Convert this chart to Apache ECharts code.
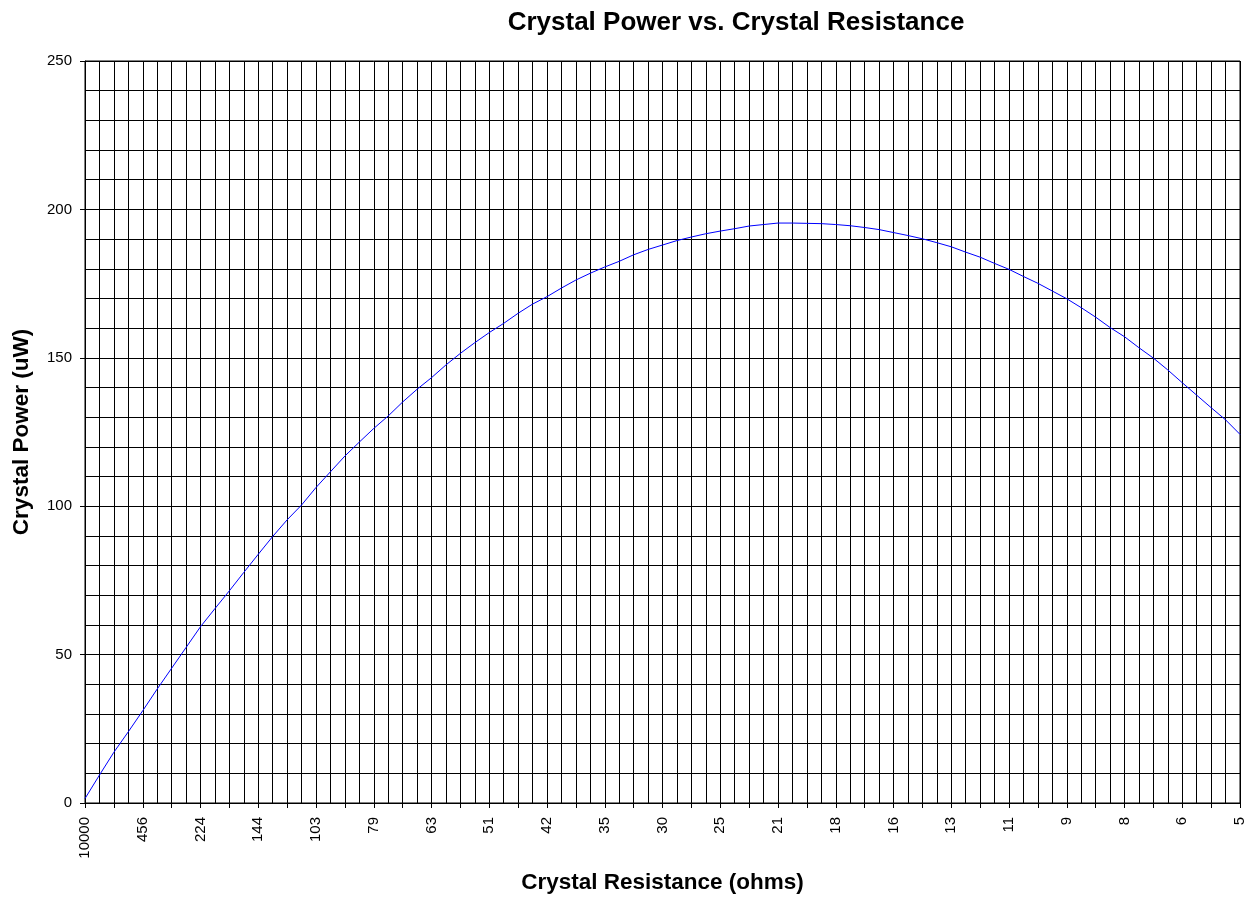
<!DOCTYPE html>
<html>
<head>
<meta charset="utf-8">
<title>Crystal Power vs. Crystal Resistance</title>
<script src="https://cdn.jsdelivr.net/npm/echarts@6/dist/echarts.min.js"></script>
<style>
  html, body { margin: 0; padding: 0; background: #fff; }
  #powerChart { width: 1258px; height: 900px; }
</style>
</head>
<body>
<div id="powerChart"></div>
<script>
// resistance (ohms) for each point, only every 4th one is labelled
var resistance = [
  10000, 1850, 915, 605, 456, 362, 300, 256, 224, 198,
  177, 159, 144, 131, 120, 111, 103, 96, 90, 84,
  79, 74, 70, 66, 63, 60, 57, 54, 51, 49,
  47, 44, 42, 40, 38, 37, 35, 34, 32, 31,
  30, 28, 27, 26, 25, 24, 23, 22, 21, 20,
  20, 19, 18, 17, 17, 16, 16, 15, 14, 14,
  13, 12, 12, 11, 11, 10, 10, 9, 9, 9,
  8, 8, 8, 7, 7, 6, 6, 6, 5, 5,
  5
]

// crystal power (uW)
var power = [
  1.5, 9.4, 17.1, 24, 31.1, 38.4, 45.4, 52.4, 59.4, 65.5,
  71.5, 77.7, 83.8, 89.8, 95.4, 100.4, 106.3, 111.6, 116.9, 121.6,
  126.2, 130.4, 135.1, 139.4, 143.3, 147.6, 151.5, 155.1, 158.5, 161.6,
  165, 168.1, 170.6, 173.5, 176.2, 178.5, 180.6, 182.5, 184.7, 186.5,
  188, 189.5, 190.7, 191.8, 192.7, 193.5, 194.4, 194.9, 195.4, 195.4,
  195.3, 195.2, 194.9, 194.5, 193.9, 193.2, 192.2, 191.2, 190.1, 188.8,
  187.4, 185.6, 183.9, 181.8, 179.8, 177.4, 175.1, 172.5, 169.9, 166.9,
  163.7, 160.2, 157.1, 153.4, 149.9, 145.9, 141.6, 137.4, 133.2, 129.1,
  124.2
]

var yMin = 0
var yMax = 250
var yStep = 50

var font = '"Liberation Sans", Arial, sans-serif'

var chart = echarts.init(document.getElementById('powerChart'))

var chartOption = {
  backgroundColor: '#fff',
  animation: false,
  title: {
    text: 'Crystal Power vs. Crystal Resistance',
    left: 731,
    textAlign: 'center',
    top: 5,
    textStyle: {
      fontFamily: font,
      fontSize: 26,
      fontWeight: 'bold',
      color: '#000'
    }
  },
  grid: {
    left: 85,
    right: 18,
    top: 61,
    bottom: 97,
    show: true,
    borderColor: '#000',
    borderWidth: 1
  },
  xAxis: {
    type: 'category',
    boundaryGap: false,
    data: resistance,
    name: 'Crystal Resistance (ohms)',
    nameLocation: 'middle',
    nameGap: 68,
    nameTextStyle: {
      fontFamily: font,
      fontSize: 22.5,
      fontWeight: 'bold',
      color: '#000'
    },
    axisLine: { lineStyle: { color: '#000', width: 1 } },
    axisTick: {
      show: true,
      interval: 1,
      length: 5,
      lineStyle: { color: '#000' }
    },
    axisLabel: {
      interval: 3,
      rotate: 90,
      margin: 14,
      fontFamily: font,
      fontSize: 15,
      color: '#000'
    },
    splitLine: {
      show: true,
      interval: 0,
      lineStyle: { color: '#000', width: 1 }
    }
  },
  yAxis: {
    type: 'value',
    min: yMin,
    max: yMax,
    interval: yStep,
    name: 'Crystal Power (uW)',
    nameLocation: 'middle',
    nameGap: 52,
    nameTextStyle: {
      fontFamily: font,
      fontSize: 22.5,
      fontWeight: 'bold',
      color: '#000'
    },
    axisLine: { show: true, lineStyle: { color: '#000', width: 1 } },
    axisTick: { show: true, length: 5, lineStyle: { color: '#000' } },
    axisLabel: {
      margin: 13,
      fontFamily: font,
      fontSize: 15,
      color: '#000'
    },
    splitLine: { show: true, lineStyle: { color: '#000', width: 1 } },
    minorTick: { show: false, splitNumber: 5 },
    minorSplitLine: { show: true, lineStyle: { color: '#000', width: 1 } }
  },
  series: [{
    name: 'Crystal Power',
    type: 'line',
    data: power,
    symbol: 'none',
    smooth: false,
    lineStyle: { color: '#0000ff', width: 1 }
  }]
}

chart.setOption(chartOption)
</script>
</body>
</html>
